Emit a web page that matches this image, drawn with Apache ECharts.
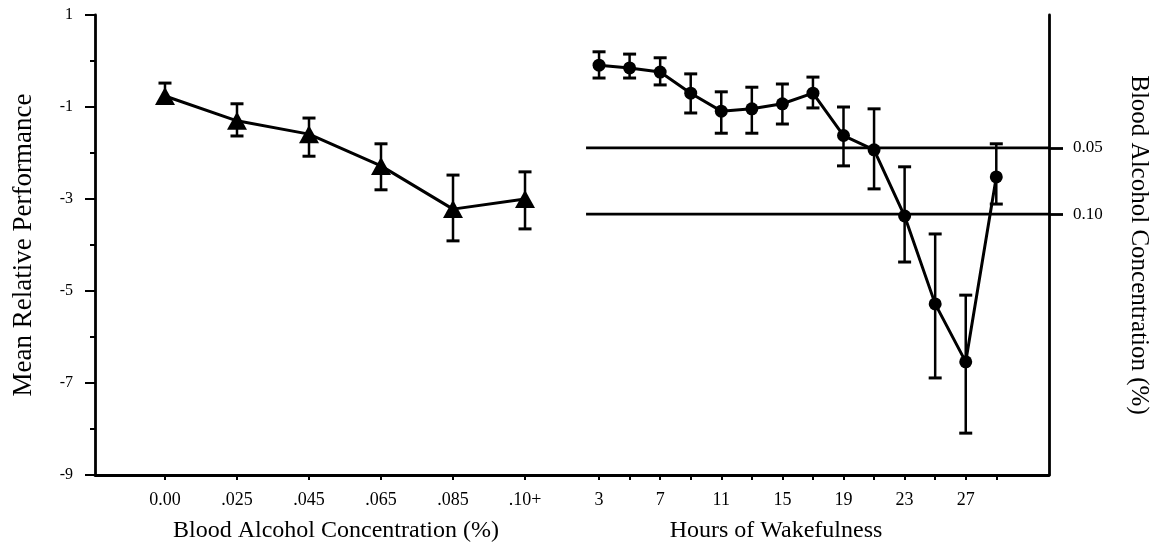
<!DOCTYPE html>
<html>
<head>
<meta charset="utf-8">
<script src="https://cdn.jsdelivr.net/npm/echarts@6/dist/echarts.min.js"></script>
<style>html,body{margin:0;padding:0;background:#fff;}#c{width:1161px;height:550px;}</style>
</head>
<body>
<div id="c"></div>
<script>
// ---- data ----
const bacLabels = ['0.00', '.025', '.045', '.065', '.085', '.10+'];
const bacMean  = [-0.76, -1.30, -1.59, -2.28, -3.22, -3.00];
const bacUpper = [-0.48, -0.93, -1.24, -1.80, -2.48, -2.41];
const bacLower = [-0.91, -1.63, -2.07, -2.80, -3.91, -3.65];

const hours     = [3, 5, 7, 9, 11, 13, 15, 17, 19, 21, 23, 25, 27, 29];
const hourMean  = [-0.09, -0.15, -0.24, -0.70, -1.09, -1.04, -0.93, -0.70, -1.62, -1.93, -3.37, -5.28, -6.54, -2.52];
const hourUpper = [0.20, 0.15, 0.07, -0.28, -0.67, -0.57, -0.50, -0.35, -1.00, -1.04, -2.30, -3.76, -5.09, -1.80];
const hourLower = [-0.37, -0.37, -0.52, -1.13, -1.57, -1.57, -1.37, -1.02, -2.28, -2.78, -4.37, -6.89, -8.09, -3.11];

const hourTicks      = [3, 5, 7, 9, 11, 13, 15, 17, 19, 21, 23, 25, 27, 29];
const hourTickLabels = [3, 7, 11, 15, 19, 23, 27];
const perfTickLabels = [-9, -7, -5, -3, -1, 1];
const perfMinorTicks = [-8, -6, -4, -2, 0];

const refLabels = ['0.05', '0.10'];
const refPerf   = [-1.89, -3.33];
const refStartHour = 2.15;

const perfMin = -9, perfMax = 1;
const bacAxisMin = -0.972, bacAxisMax = 5.347;
const hourAxisMin = -0.21, hourAxisMax = 32.45;

// ---- chart ----
const FONT = 'Liberation Serif';
const black = '#000';
const chart = echarts.init(document.getElementById('c'), null, {renderer: 'canvas'});

function errRender(params, api) {
  const x = api.value(0);
  const lo = api.coord([x, api.value(1)]);
  const hi = api.coord([x, api.value(2)]);
  const w = 6.5;
  return {
    type: 'group',
    children: [
      {type: 'line', shape: {x1: lo[0], y1: lo[1], x2: hi[0], y2: hi[1]}, style: {stroke: black, lineWidth: 2.5}},
      {type: 'line', shape: {x1: lo[0] - w, y1: lo[1], x2: lo[0] + w, y2: lo[1]}, style: {stroke: black, lineWidth: 3}},
      {type: 'line', shape: {x1: hi[0] - w, y1: hi[1], x2: hi[0] + w, y2: hi[1]}, style: {stroke: black, lineWidth: 3}}
    ]
  };
}

const axisLineStyle = {show: true, onZero: false, lineStyle: {color: black, width: 2.8}};

const option = {
  animation: false,
  backgroundColor: '#fff',
  textStyle: {fontFamily: FONT, color: black},
  grid: [
    {left: 95, top: 15, width: 455, bottom: 75},
    {left: 550, top: 15, right: 112, bottom: 75}
  ],
  xAxis: [
    {
      type: 'value', gridIndex: 0, min: bacAxisMin, max: bacAxisMax,
      axisLine: axisLineStyle,
      axisTick: {show: true, customValues: bacLabels.map((_, i) => i), length: 5, lineStyle: {color: black, width: 2}},
      axisLabel: {customValues: bacLabels.map((_, i) => i), formatter: v => bacLabels[Math.round(v)], fontSize: 18, color: black, fontFamily: FONT, margin: 16},
      splitLine: {show: false},
      name: 'Blood Alcohol Concentration (%)', nameLocation: 'middle', nameGap: 44,
      nameTextStyle: {fontSize: 24, color: black, fontFamily: FONT, padding: [0, 0, 0, 27]}
    },
    {
      type: 'value', gridIndex: 1, min: hourAxisMin, max: hourAxisMax,
      axisLine: axisLineStyle,
      axisTick: {show: true, customValues: hourTicks, length: 5, lineStyle: {color: black, width: 2}},
      axisLabel: {customValues: hourTickLabels, fontSize: 18, color: black, fontFamily: FONT, margin: 16},
      splitLine: {show: false},
      name: 'Hours of Wakefulness', nameLocation: 'middle', nameGap: 44,
      nameTextStyle: {fontSize: 24, color: black, fontFamily: FONT, padding: [0, 47, 0, 0]}
    }
  ],
  yAxis: [
    {
      type: 'value', gridIndex: 0, min: perfMin, max: perfMax, position: 'left',
      axisLine: axisLineStyle,
      axisTick: {show: true, customValues: perfTickLabels, length: 10, lineStyle: {color: black, width: 2}},
      axisLabel: {customValues: perfTickLabels, fontSize: 16, color: black, fontFamily: FONT, margin: 22},
      splitLine: {show: false},
      name: 'Mean Relative Performance', nameLocation: 'middle', nameGap: 58,
      nameTextStyle: {fontSize: 27, color: black, fontFamily: FONT}
    },
    {
      type: 'value', gridIndex: 0, min: perfMin, max: perfMax, position: 'left',
      axisLine: {show: false, onZero: false},
      axisTick: {show: true, customValues: perfMinorTicks, length: 5, lineStyle: {color: black, width: 2}},
      axisLabel: {show: false},
      splitLine: {show: false}
    },
    {
      type: 'value', gridIndex: 1, min: perfMin, max: perfMax, position: 'right',
      axisLine: axisLineStyle,
      axisTick: {show: true, customValues: refPerf, length: 14, lineStyle: {color: black, width: 2.8}},
      axisLabel: {customValues: refPerf, formatter: v => refLabels[refPerf.indexOf(v)], fontSize: 17, color: black, fontFamily: FONT, margin: 24},
      splitLine: {show: false},
      name: 'Blood Alcohol Concentration (%)', nameLocation: 'middle', nameRotate: -90, nameGap: 77,
      nameTextStyle: {fontSize: 25, color: black, fontFamily: FONT}
    }
  ],
  series: [
    ...refPerf.map(v => ({
      type: 'line', xAxisIndex: 1, yAxisIndex: 2, symbol: 'none', silent: true,
      data: [[refStartHour, v], [hourAxisMax, v]],
      lineStyle: {color: black, width: 2.8}
    })),
    {
      type: 'custom', xAxisIndex: 0, yAxisIndex: 0, renderItem: errRender,
      encode: {x: 0, y: [1, 2]},
      data: bacMean.map((_, i) => [i, bacLower[i], bacUpper[i]])
    },
    {
      type: 'line', xAxisIndex: 0, yAxisIndex: 0,
      data: bacMean.map((v, i) => [i, v]),
      symbol: 'triangle', symbolSize: [20, 18],
      lineStyle: {color: black, width: 3}, itemStyle: {color: black}
    },
    {
      type: 'custom', xAxisIndex: 1, yAxisIndex: 2, renderItem: errRender,
      encode: {x: 0, y: [1, 2]},
      data: hours.map((h, i) => [h, hourLower[i], hourUpper[i]])
    },
    {
      type: 'line', xAxisIndex: 1, yAxisIndex: 2,
      data: hours.map((h, i) => [h, hourMean[i]]),
      symbol: 'circle', symbolSize: 13,
      lineStyle: {color: black, width: 3}, itemStyle: {color: black}
    }
  ]
};
chart.setOption(option);
</script>
</body>
</html>
